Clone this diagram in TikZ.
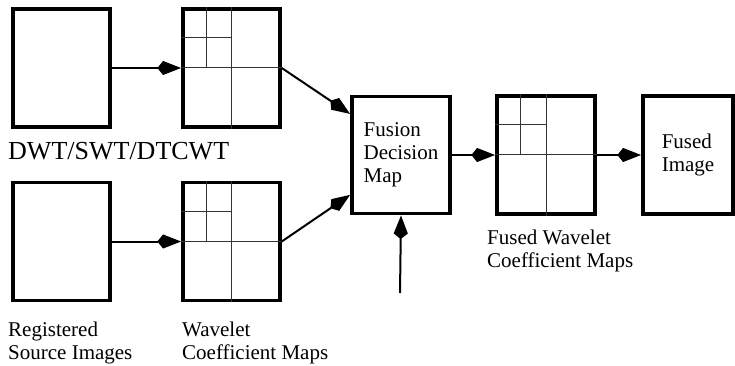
\documentclass[tikz,border=0pt]{standalone}
\usepackage{fontspec}
\setmainfont{Liberation Serif}
\usetikzlibrary{arrows.meta}
\usetikzlibrary{calc}

\tikzset{
	imgbox/.style={draw, line width=3.5pt, minimum width=97pt, minimum height=118pt, inner sep=0pt},
	txtbox/.style={imgbox, align=left, font=\fontsize{21}{23}\selectfont},
	lbl/.style={align=left, anchor=north west, inner sep=0pt, font=\fontsize{21}{23}\selectfont},
	grid line/.style={line width=1pt, black!80},
	fat arrow/.style={-{Stealth[length=18pt,width=13pt,inset=-6pt]}, line width=2pt}
}

% quad-tree split of a wavelet coefficient box
\newcommand{\coefgrid}[1]{%
	\draw[grid line] (#1.north) -- (#1.south)
	(#1.west) -- (#1.east)
	($(#1.north west)!0.25!(#1.north east)$) -- ($(#1.west)!0.25!(#1.east)$)
	($(#1.north west)!0.25!(#1.south west)$) -- ($(#1.north)!0.25!(#1.south)$);
}

\begin{document}
\begin{tikzpicture}[x=1pt, y=-1pt]
	\useasboundingbox (0,0) rectangle (735,366);
	
	\node[imgbox] (src1) at (61.5,68) {};
	\node[imgbox] (wav1) at (231.5,68) {};
	\node[imgbox] (src2) at (61.5,241.5) {};
	\node[imgbox] (wav2) at (231.5,241.5) {};
	\node[txtbox, minimum width=98pt, minimum height=117pt] (fdm) at (401,155) {Fusion\\Decision\\Map};
	\node[imgbox, minimum width=98pt] (fwav) at (546,155) {};
	\node[txtbox, minimum width=90pt] (fused) at (688,155) {Fused\\Image};
	\coefgrid{wav1}
	\coefgrid{wav2}
	\coefgrid{fwav}
	
	\node[lbl, font=\fontsize{26}{28}\selectfont] (xform) at (8,142) {DWT/SWT/DTCWT};
	\node[lbl] (srclbl) at (8,322) {Registered\\Source Images};
	\node[lbl] (wavlbl) at (182,322) {Wavelet\\Coefficient Maps};
	\node[lbl] (fwavlbl) at (487,230) {Fused Wavelet\\Coefficient Maps};
	
	\coordinate (ctl) at (400,293);
	
	\path[fat arrow]
	(src1) edge (wav1)
	(src2) edge (wav2)
	(wav1.east) edge ($(fdm.north west)!0.16!(fdm.south west)$)
	(wav2.east) edge ($(fdm.north west)!0.83!(fdm.south west)$)
	(fdm.east) edge (fwav.west)
	(fwav.east) edge (fused.west)
	(ctl) edge (fdm.south)
	;
\end{tikzpicture}
\end{document}
